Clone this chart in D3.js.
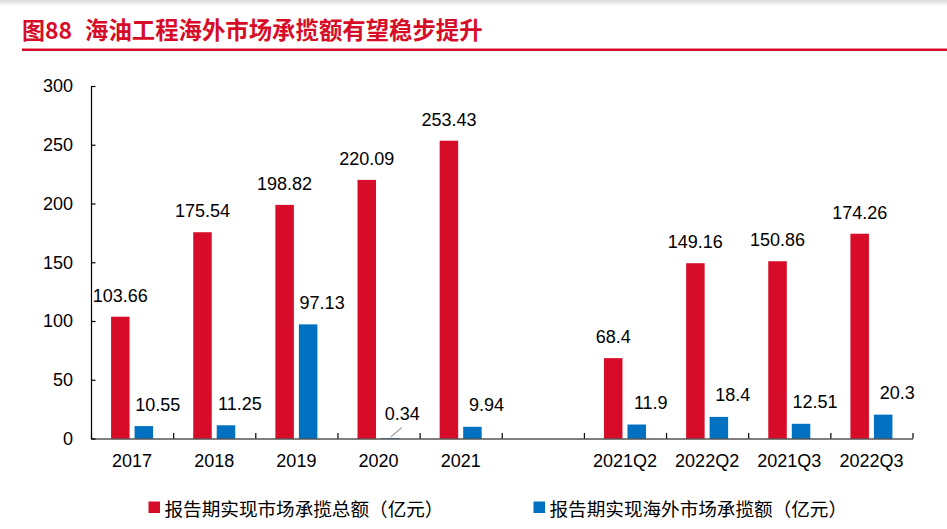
<!DOCTYPE html>
<html>
<head>
<meta charset="utf-8">
<script src="https://cdn.jsdelivr.net/npm/d3@7"></script>
<style>
  html, body { margin: 0; padding: 0; background: #fff; }
  svg { display: block; }
</style>
</head>
<body>
<script>
// ---- data ----
const categories = ["2017", "2018", "2019", "2020", "2021", "", "2021Q2", "2022Q2", "2021Q3", "2022Q3"];
const totalValues = [103.66, 175.54, 198.82, 220.09, 253.43, null, 68.4, 149.16, 150.86, 174.26];
const overseasValues = [10.55, 11.25, 97.13, 0.34, 9.94, null, 11.9, 18.4, 12.51, 20.3];
const yTicks = [0, 50, 100, 150, 200, 250, 300];
const seriesNames = ["报告期实现市场承揽总额（亿元）", "报告期实现海外市场承揽额（亿元）"];
const titlePrefix = "图88";
const titleText = "海油工程海外市场承揽额有望稳步提升";

// ---- styles ----
const W = 947, H = 529;
const RED = "#D70C28", BLUE = "#0070C0";
const numFont = "'Liberation Sans', Arial, sans-serif";
const cjkFont = "'Noto Sans CJK SC', 'Noto Sans', sans-serif";

const svg = d3.select("body").append("svg").attr("width", W).attr("height", H);

// top shadow
const defs = svg.append("defs");
const g0 = defs.append("linearGradient").attr("id", "topShade").attr("x1", 0).attr("y1", 0).attr("x2", 0).attr("y2", 1);
g0.append("stop").attr("offset", "0%").attr("stop-color", "#d9d9d9");
g0.append("stop").attr("offset", "100%").attr("stop-color", "#ffffff");
svg.append("rect").attr("x", 0).attr("y", 0).attr("width", W).attr("height", 6).attr("fill", "url(#topShade)");

// title
svg.append("text").attr("x", 22).attr("y", 29).attr("dominant-baseline", "central")
  .attr("font-family", cjkFont).attr("font-weight", "bold").attr("font-size", 23)
  .attr("fill", RED).text(titlePrefix);
svg.append("text").attr("x", 85).attr("y", 29).attr("dominant-baseline", "central")
  .attr("font-family", cjkFont).attr("font-weight", "bold").attr("font-size", 23.4)
  .attr("fill", RED).text(titleText);
svg.append("rect").attr("x", 22).attr("y", 48.5).attr("width", W - 22).attr("height", 2.5).attr("fill", RED);

// scales
const x0 = 91, x1 = 912.5, yTop = 86, yBase = 438.5;
const x = d3.scaleBand().domain(categories).range([x0, x1]).padding(0);
const xSub = d3.scaleBand().domain(["total", "overseas"])
  .range([x.bandwidth() / 2 - 21, x.bandwidth() / 2 + 21]).paddingInner(0.213).paddingOuter(0);
const y = d3.scaleLinear().domain([0, 300]).range([yBase, yTop]);

// bars
const rows = categories.map((c, i) => ({ c, total: totalValues[i], overseas: overseasValues[i] }));
const gBars = svg.append("g");
rows.forEach(r => {
  if (r.total != null) {
    gBars.append("rect").attr("x", x(r.c) + xSub("total")).attr("y", y(r.total))
      .attr("width", xSub.bandwidth()).attr("height", y(0) - y(r.total)).attr("fill", RED);
  }
  if (r.overseas != null) {
    gBars.append("rect").attr("x", x(r.c) + xSub("overseas")).attr("y", y(r.overseas))
      .attr("width", xSub.bandwidth()).attr("height", y(0) - y(r.overseas)).attr("fill", BLUE);
  }
});

// value labels
const gLab = svg.append("g").attr("font-family", numFont).attr("font-size", 18).attr("fill", "#000").attr("text-anchor", "middle");
rows.forEach(r => {
  if (r.total != null) {
    gLab.append("text").attr("x", x(r.c) + xSub("total") + xSub.bandwidth() / 2)
      .attr("y", y(r.total) - 15).text(r.total);
  }
  if (r.overseas != null) {
    const cx = x(r.c) + xSub("overseas") + xSub.bandwidth() / 2;
    const small = r.overseas < 2;
    if (small) {
      svg.append("line").attr("x1", cx + 0.5).attr("y1", y(r.overseas) - 1)
        .attr("x2", cx + 11.5).attr("y2", y(r.overseas) - 10.5)
        .attr("stroke", "#a6a6a6").attr("stroke-width", 1.3);
    }
    gLab.append("text").attr("x", cx + (small ? 12 : 14))
      .attr("y", y(r.overseas) - (small ? 18.5 : 15.5)).text(r.overseas);
  }
});

// y axis
const yAxis = svg.append("g").attr("transform", `translate(${x0},0)`)
  .call(d3.axisLeft(y).tickValues(yTicks).tickSize(-4.5).tickSizeOuter(0).tickPadding(18));
yAxis.selectAll("text").attr("font-family", numFont).attr("font-size", 18).attr("fill", "#000");
yAxis.selectAll("line,path").attr("stroke", "#000").attr("stroke-width", 1.2);

// x axis: boundary ticks
const xEdge = d3.scaleLinear().domain([0, categories.length]).range([x0, x1]);
const xAxisTicks = svg.append("g").attr("transform", `translate(0,${yBase})`)
  .call(d3.axisBottom(xEdge).ticks(categories.length).tickSize(-5.5).tickSizeOuter(0).tickFormat(""));
xAxisTicks.selectAll("line,path").attr("stroke", "#000").attr("stroke-width", 1.2);

// x axis: category labels
const xAxisLab = svg.append("g").attr("transform", `translate(0,${yBase})`)
  .call(d3.axisBottom(x).tickSize(0).tickPadding(16));
xAxisLab.select(".domain").remove();
xAxisLab.selectAll("text").attr("font-family", numFont).attr("font-size", 18).attr("fill", "#000");

// legend
const legendItems = [
  { name: seriesNames[0], color: RED, x: 148.5 },
  { name: seriesNames[1], color: BLUE, x: 533.5 }
];
legendItems.forEach(it => {
  svg.append("rect").attr("x", it.x).attr("y", 501.5).attr("width", 11.5).attr("height", 11.5).attr("fill", it.color);
  svg.append("text").attr("x", it.x + 16).attr("y", 507.5).attr("dominant-baseline", "central")
    .attr("font-family", cjkFont).attr("font-size", 18.6).attr("fill", "#000").text(it.name);
});
</script>
</body>
</html>
